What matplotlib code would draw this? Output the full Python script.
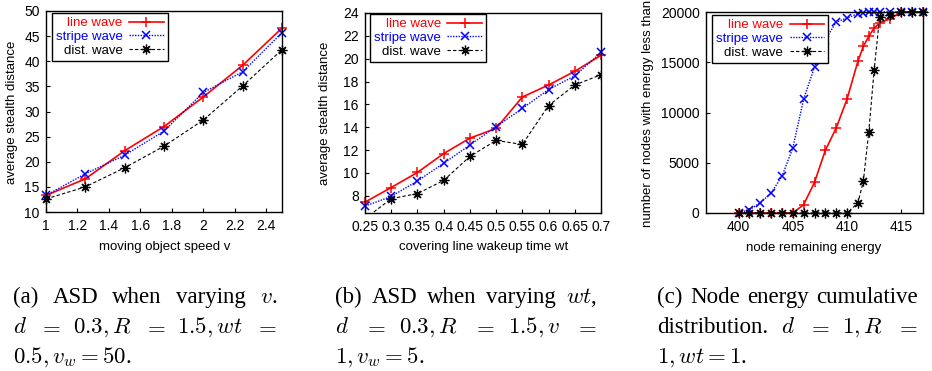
import numpy as np
import matplotlib
matplotlib.use("Agg")
import matplotlib.pyplot as plt
from matplotlib.ticker import FuncFormatter

# data
speed_v = [1, 1.25, 1.5, 1.75, 2, 2.25, 2.5]
line_a = [13.3, 16.6, 22.2, 27.0, 32.9, 39.2, 46.6]
stripe_a = [13.3, 17.6, 21.3, 26.1, 33.8, 37.9, 45.7]
dist_a = [12.6, 15.0, 18.8, 23.1, 28.3, 35.1, 42.3]

wakeup_wt = [0.25, 0.3, 0.35, 0.4, 0.45, 0.5, 0.55, 0.6, 0.65, 0.7]
line_b = [7.45, 8.73, 10.05, 11.7, 13.05, 13.9, 16.65, 17.7, 18.9, 20.3]
stripe_b = [7.1, 7.95, 9.3, 10.85, 12.45, 14.05, 15.65, 17.3, 18.5, 20.55]
dist_b = [6.0, 7.75, 8.2, 9.35, 11.45, 12.85, 12.5, 15.9, 17.7, 18.6]

energy = [400, 401, 402, 403, 404, 405, 406, 407, 408, 409, 410, 411,
          411.5, 412, 412.5, 413, 414, 415, 416, 417]
line_c = [0, 0, 0, 0, 0, 0, 830, 3050, 6240, 8460, 11340, 15090,
          16580, 17580, 18410, 18900, 19340, 20000, 20000, 20000]
stripe_c = [0, 330, 1000, 1990, 3650, 6470, 11340, 14530, 17250, 19000, 19400, 19830,
            19950, 20000, 20000, 20000, 20000, 20000, 20000, 20000]
dist_c = [0, 0, 0, 0, 0, 0, 0, 0, 0, 0, 0, 1000,
          3150, 8060, 14260, 19500, 19740, 20000, 20000, 20000]

series_names = ["line wave", "stripe wave", "dist. wave"]

plt.rcParams["mathtext.fontset"] = "cm"
plt.rcParams["font.family"] = ["Liberation Sans Narrow", "Liberation Sans", "DejaVu Sans"]

W, H = 932, 371
fig = plt.figure(figsize=(W / 100, H / 100), dpi=100)


def fx(px):
    return px / W


def fy(py):
    return 1 - py / H


styles = [dict(color="#ff0000", ls="-", marker="+", lw=1.2, ms=7, mew=1.1),
          dict(color="#0000ff", ls=(0, (1, 1)), marker="x", lw=1.0, ms=6, mew=1.1),
          dict(color="black", ls=(0, (3, 2)), marker=(8, 2, 0), lw=0.8, ms=7, mew=0.9)]

# panel boxes in pixels: left, top, right, bottom
boxes = [(46, 11, 282, 212), (365, 13, 601, 213), (706, 12, 923, 213)]
xdata = [speed_v, wakeup_wt, energy]
ydata = [[line_a, stripe_a, dist_a], [line_b, stripe_b, dist_b], [line_c, stripe_c, dist_c]]
xlims = [(1, 2.5), (0.25, 0.7), (397, 417)]
ylims = [(10, 50), (6.5, 24), (0, 20000)]
xticks = [np.arange(1, 2.41, 0.2), np.arange(0.25, 0.701, 0.05), [400, 405, 410, 415]]
yticks = [np.arange(10, 51, 5), np.arange(8, 25, 2), np.arange(0, 20001, 5000)]
xlabels = ["moving object speed v", "covering line wakeup time wt", "node remaining energy"]
xlabel_pos = [(165, 247), (484, 247), (814, 248)]
legend_anchor = [(0.025, 0.99), (0.021, 0.995), (0.028, 0.985)]

for i in range(3):
    l, t, r, b = boxes[i]
    ax = fig.add_axes([fx(l), fy(b), (r - l) / W, (b - t) / H])
    for j in range(3):
        clip = (i == 1 and j == 2)
        ax.plot(xdata[i], ydata[i][j], label=series_names[j], clip_on=clip, **styles[j])
    ax.set_xlim(xlims[i])
    ax.set_ylim(ylims[i])
    ax.set_xticks(xticks[i])
    ax.set_yticks(yticks[i])
    ax.xaxis.set_major_formatter(FuncFormatter(lambda v, p: "%g" % round(v, 3)))
    ax.yaxis.set_major_formatter(FuncFormatter(lambda v, p: "%g" % round(v, 3)))
    ax.tick_params(direction="in", length=3, width=0.8, labelsize=10)
    ax.tick_params(axis="x", pad=5)
    ax.tick_params(axis="y", pad=4.5)
    for sp in ax.spines.values():
        sp.set_linewidth(1.0)
    leg = ax.legend(loc="upper left", bbox_to_anchor=legend_anchor[i], borderaxespad=0,
                    markerfirst=False, labelcolor="linecolor", fontsize=9.5, fancybox=False,
                    edgecolor="black", framealpha=1, handlelength=2.6, handletextpad=0.5,
                    labelspacing=0.12, borderpad=0.3, numpoints=1)
    leg.get_frame().set_linewidth(1.0)
    # right-justify the labels, gnuplot style
    for col in leg._legend_handle_box.get_children():
        col.align = "right"
    fig.text(fx(xlabel_pos[i][0]), fy(xlabel_pos[i][1]), xlabels[i],
             ha="center", va="center", fontsize=9.5)

# y labels (vertical text is not squeezed, so regular width)
fig.text(fx(12), fy(112), "average stealth distance", rotation=90, ha="center", va="center",
         fontsize=9.5, family=["Liberation Sans", "DejaVu Sans"])
fig.text(fx(325), fy(113), "average stealth distance", rotation=90, ha="center", va="center",
         fontsize=9.5, family=["Liberation Sans", "DejaVu Sans"])
fig.text(fx(648), fy(227), "number of nodes with energy less than", rotation=90, ha="center",
         va="bottom", fontsize=9.5, family=["Liberation Sans", "DejaVu Sans"])

# captions, justified like the paper
cap_font = dict(fontsize=16.5, family=["Liberation Serif", "DejaVu Serif"], va="baseline")
renderer = fig.canvas.get_renderer()


def justify(tokens, x0, x1, y):
    texts = [fig.text(fx(x0), fy(y), s, **cap_font) for s in tokens]
    widths = [tx.get_window_extent(renderer).width for tx in texts]
    gap = (x1 - x0 - sum(widths)) / (len(texts) - 1)
    x = x0
    for tx, w in zip(texts, widths):
        tx.set_x(fx(x))
        x += w + gap


captions = [
    [["(a)", "ASD", "when", "varying", "$v$."],
     ["$d$", "$=$", "$0.3,R$", "$=$", "$1.5,wt$", "$=$"],
     "$0.5, v_w = 50$."],
    [["(b)", "ASD", "when", "varying", "$wt$,"],
     ["$d$", "$=$", "$0.3,R$", "$=$", "$1.5,v$", "$=$"],
     "$1, v_w = 5$."],
    [["(c)", "Node", "energy", "cumulative"],
     ["distribution.", "$d$", "$=$", "$1,R$", "$=$"],
     "$1, wt = 1$."],
]
cap_x = [(13, 277), (335, 597), (657, 918)]
for k, cap in enumerate(captions):
    x0, x1 = cap_x[k]
    justify(cap[0], x0, x1, 303)
    justify(cap[1], x0, x1, 333)
    fig.text(fx(x0), fy(363), cap[2], **cap_font)

fig.savefig("out.png", dpi=100)
